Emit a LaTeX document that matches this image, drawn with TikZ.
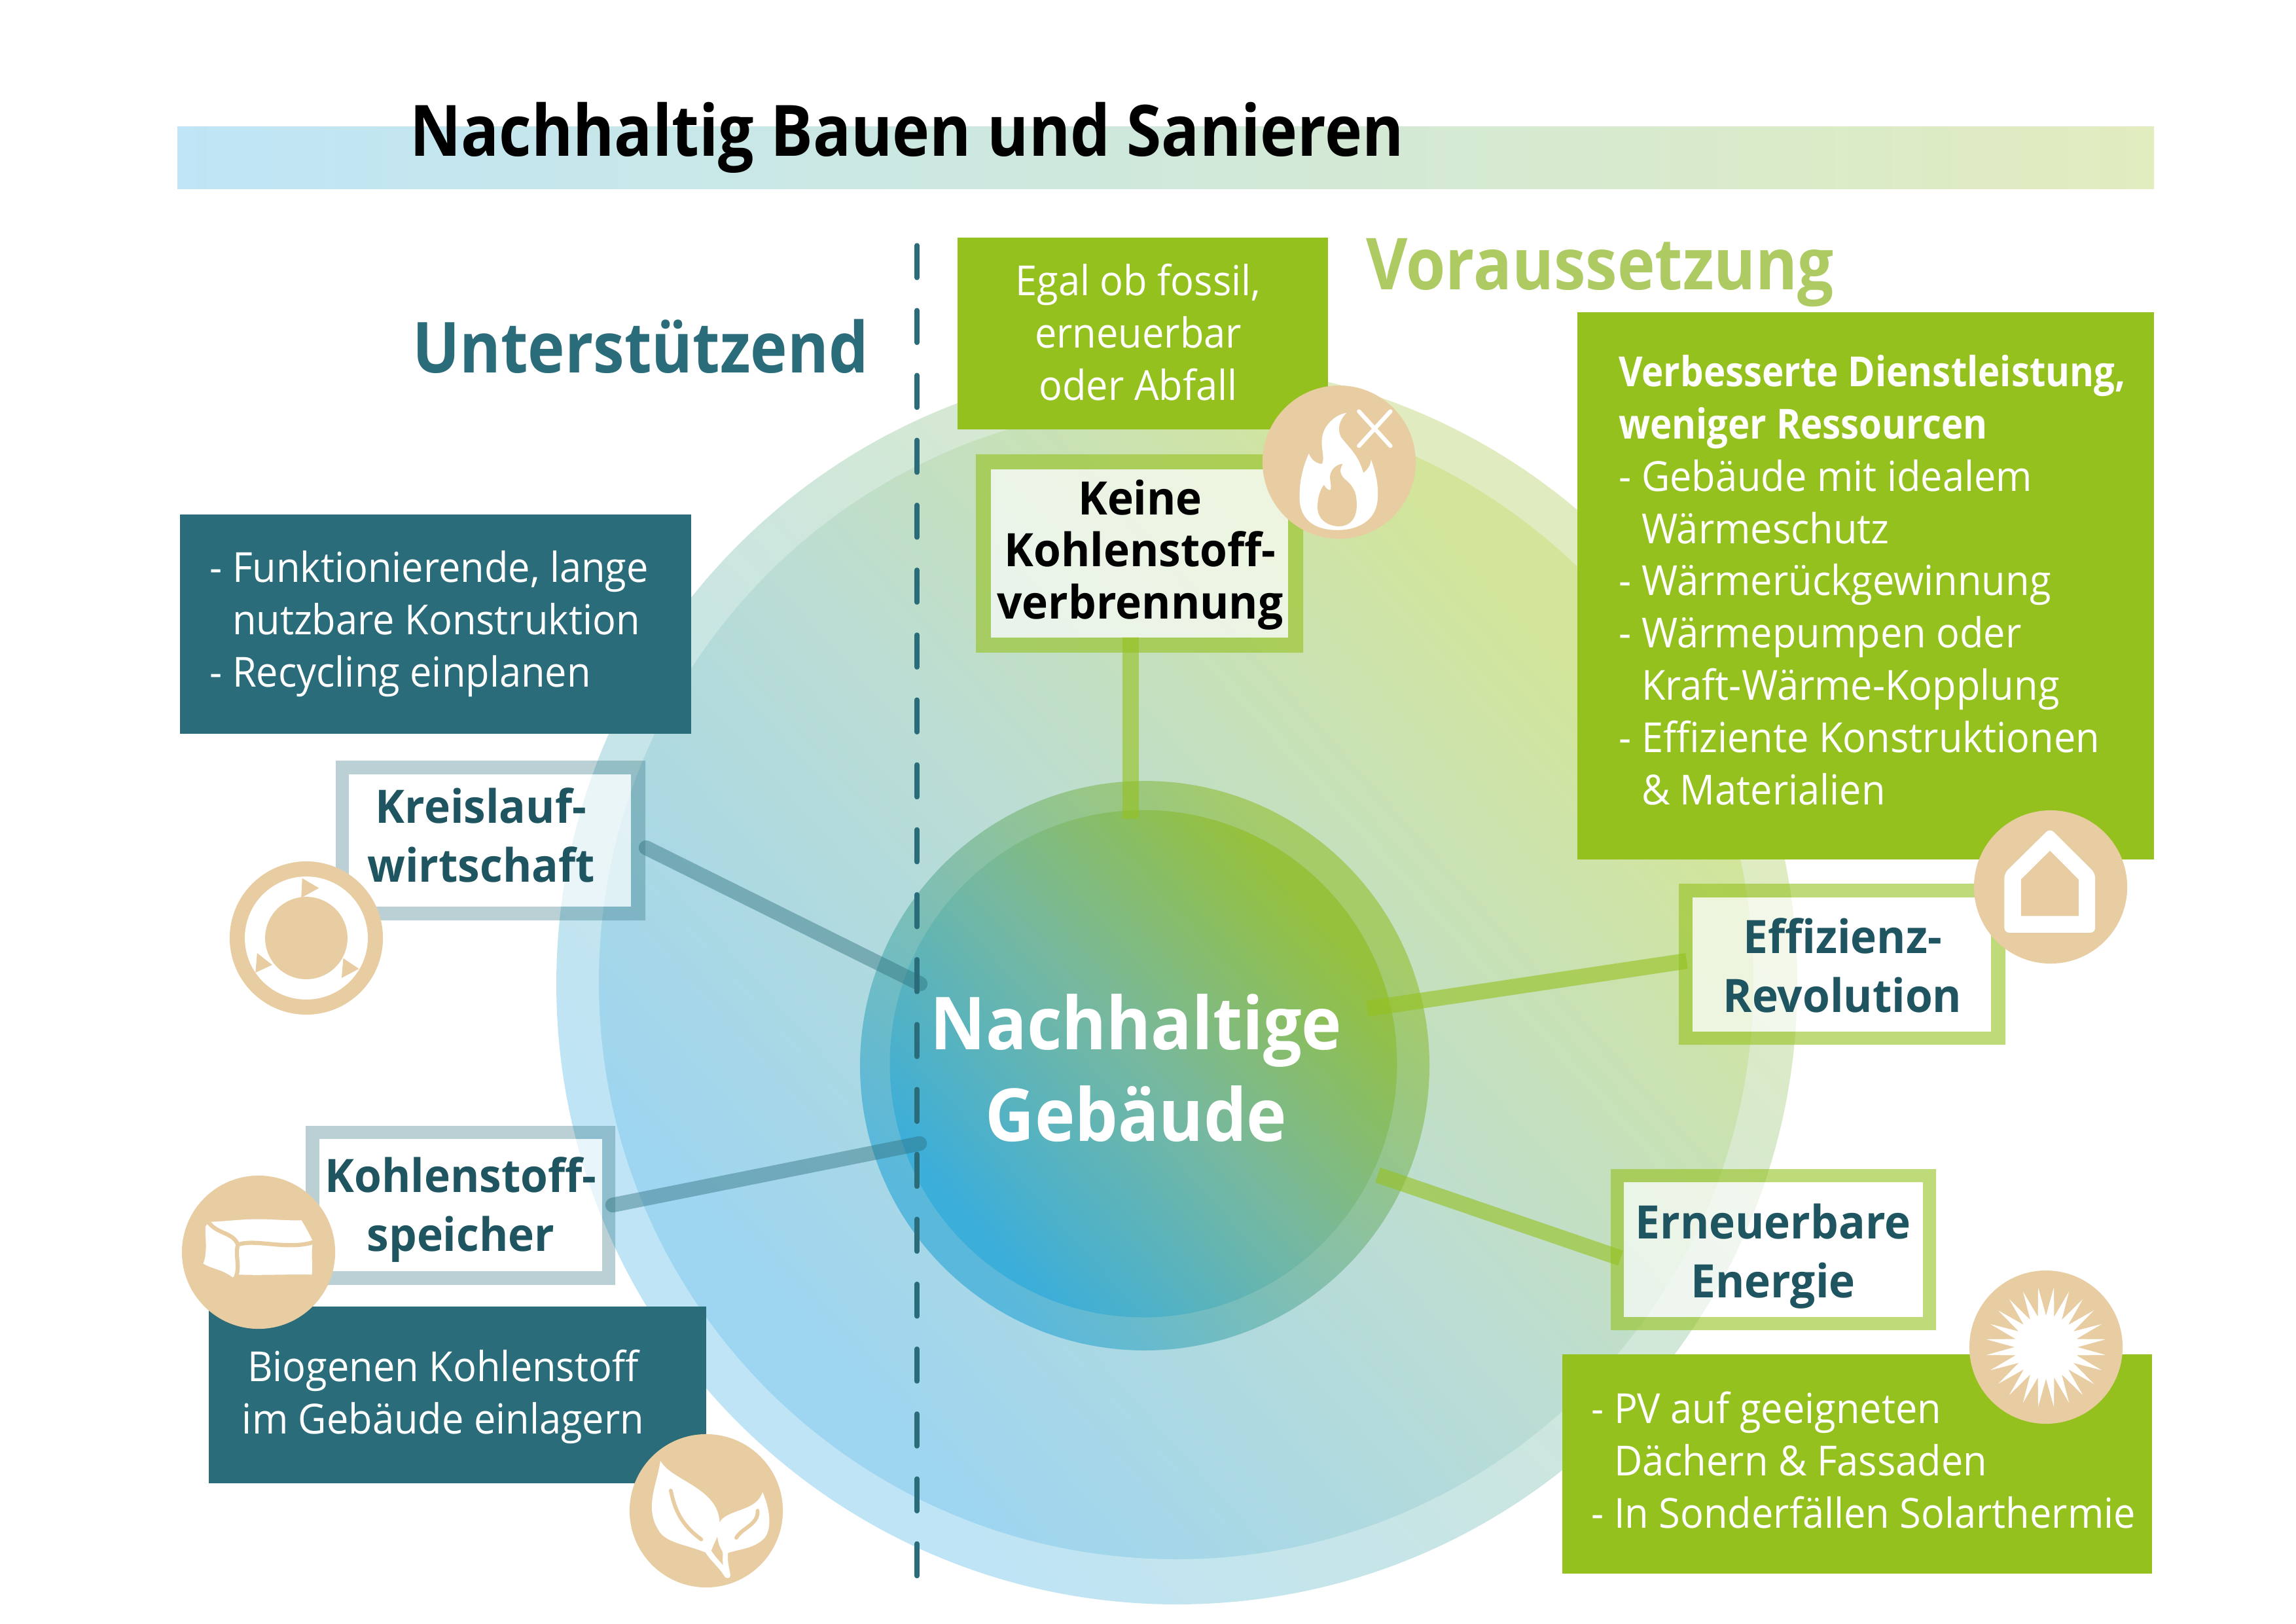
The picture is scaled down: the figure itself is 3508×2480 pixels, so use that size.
\documentclass[tikz,border=0pt]{standalone}
\usepackage{fontspec}
\setmainfont{Open Sans}[FakeStretch=0.94,BoldFeatures={FakeStretch=0.89}]
\newfontfamily\labfont{Open Sans}[FakeStretch=0.96,BoldFeatures={FakeStretch=0.96}]
\newfontfamily\corefont{Open Sans}[FakeStretch=0.93,BoldFeatures={FakeStretch=0.93}]
\usetikzlibrary{calc}
\definecolor{teal}{HTML}{2A6C79}
\definecolor{tealdark}{HTML}{1F5560}
\definecolor{leaf}{HTML}{95C11F}
\definecolor{leafhead}{HTML}{ADCB62}
\definecolor{beige}{HTML}{E8CDA3}
\definecolor{skyA}{HTML}{BFE5F6}\definecolor{skyB}{HTML}{E1ECBF}
\definecolor{outA}{HTML}{BEE4F6}\definecolor{outM}{HTML}{CDE6DE}\definecolor{outB}{HTML}{E0ECC0}
\definecolor{inA}{HTML}{9ED5F0}\definecolor{inM}{HTML}{BCDDD3}\definecolor{inB}{HTML}{D3E59A}
\definecolor{coA}{HTML}{5AB8DC}\definecolor{coM}{HTML}{87C0AA}\definecolor{coB}{HTML}{A6CC68}
\definecolor{crA}{HTML}{3CAEDA}\definecolor{crM}{HTML}{76B8A0}\definecolor{crB}{HTML}{96C13C}
\pgfdeclarehorizontalshading{outerSh}{100bp}{color(0bp)=(outA);color(28bp)=(outA);color(50bp)=(outM);color(72bp)=(outB);color(100bp)=(outB)}
\pgfdeclarehorizontalshading{innerSh}{100bp}{color(0bp)=(inA);color(28bp)=(inA);color(50bp)=(inM);color(72bp)=(inB);color(100bp)=(inB)}
\pgfdeclarehorizontalshading{coreoutSh}{100bp}{color(0bp)=(coA);color(27bp)=(coA);color(50bp)=(coM);color(73bp)=(coB);color(100bp)=(coB)}
\pgfdeclarehorizontalshading{coreinSh}{100bp}{color(0bp)=(crA);color(27bp)=(crA);color(50bp)=(crM);color(73bp)=(crB);color(100bp)=(crB)}
\newcommand{\dl}{\makebox[8.4pt][l]{-}}
\newcommand{\il}{\hspace*{8.4pt}}
\newcommand{\lbframe}[5]{\fill[#1,even odd rule] #2 rectangle #3 #4 rectangle #5;}
\tikzset{
 every node/.style={inner sep=0pt,outer sep=0pt},
 disc/.style={circle,minimum size=#1*0.48pt},
 badge/.style={circle,fill=beige,minimum size=56.2pt},
 body/.style={text=white,anchor=base,font=\fontsize{15.2}{19.2}\selectfont},
 bodyright/.style={text=white,anchor=base west,align=left,font=\fontsize{15.2}{19.15}\selectfont},
 title/.style={anchor=base west,font=\fontsize{26}{32}\selectfont\bfseries},
 lab/.style={anchor=base,align=center,font=\labfont\fontsize{16.9}{21.6}\selectfont\bfseries,text=tealdark},
 tealframe/.style={teal,opacity=.32},
 leafframe/.style={leaf,opacity=.6},
 windowfill/.style={rectangle,fill=white,fill opacity=.65},
 tealline/.style={draw=teal,opacity=.42,line width=5.4pt,line cap=round},
 leafline/.style={draw=leaf,opacity=.6,line width=5.8pt},
 icon/.style={white},
 z2/.style={shift={(1400,330)},x=.13777pt,y=-.11019pt},
 z3/.style={shift={(250,1100)},x=.12245pt,y=-.08pt},
 z4/.style={shift={(250,1700)},x=.15306pt,y=-.1194pt},
 z5/.style={shift={(2400,1200)},x=.14545pt,y=-.19139pt},
}
\begin{document}
\begin{tikzpicture}[x=.24pt,y=-.24pt]
\useasboundingbox (0,0) rectangle (3508,2480);
% header band
\node[rectangle,minimum width=3020*.24pt,minimum height=95*.24pt,left color=skyA,right color=skyB,anchor=north west] (band) at (271,193) {};
\node[title,text=black] (heading) at (626,238) {Nachhaltig Bauen und Sanieren};
% discs
\node[disc=948,shading=outerSh,shading angle=42] (outer) at (1798,1503) {};
\node[disc=882,shading=innerSh,shading angle=42] (inner) at (1797,1500) {};
\node[disc=435,shading=coreoutSh,shading angle=42] (coreout) at (1749,1628) {};
\node[disc=387.5,shading=coreinSh,shading angle=42] (corein) at (1747,1625) {};
% divider
\coordinate (divtop) at (1401,375);
\coordinate (divbot) at (1401,2412);
\draw[teal,line width=1.8pt,line cap=round,dash pattern=on 11.8pt off 12pt] (divtop) -- (divbot);
% headings
\node[title,text=teal,font=\fontsize{25.8}{32}\selectfont\bfseries] (unter) at (630,569) {Unterstützend};
\node[title,text=leafhead,font=\fontsize{26.3}{32}\selectfont\bfseries] (vor) at (2087,442) {Voraussetzung};
% connectors
\coordinate (c1a) at (987,1295); \coordinate (c1b) at (1406,1503);
\coordinate (c2a) at (936,1841); \coordinate (c2b) at (1405,1747);
\coordinate (c3a) at (1727.5,973); \coordinate (c3b) at (1727.5,1251);
\coordinate (c4a) at (2577,1468); \coordinate (c4b) at (2089,1541);
\coordinate (c5a) at (2476,1922); \coordinate (c5b) at (2105,1795);
\draw[tealline] (c1a) -- (c1b);
\draw[tealline] (c2a) -- (c2b);
\draw[leafline] (c3a) -- (c3b);
\draw[leafline] (c4a) -- (c4b);
\draw[leafline] (c5a) -- (c5b);
% framed labels
\lbframe{leafframe}{(1491,694)}{(1991,997)}{(1514,717)}{(1968,974)}
\node[windowfill,minimum width=454*.24pt,minimum height=257*.24pt] (keinebox) at (1741,845.5) {};
\node[lab,text=black,font=\labfont\fontsize{16.9}{19}\selectfont\bfseries] (keine) at (1742,945) {Keine\\Kohlenstoff-\\verbrennung};
\lbframe{tealframe}{(513,1162)}{(986,1406)}{(533,1183)}{(964,1385)}
\node[windowfill,minimum width=431*.24pt,minimum height=202*.24pt] (kreisbox) at (748.5,1284) {};
\node[lab] (kreis) at (735,1347) {Kreislauf-\\wirtschaft};
\lbframe{tealframe}{(467,1720)}{(940,1963)}{(488,1740)}{(920,1942)}
\node[windowfill,minimum width=432*.24pt,minimum height=202*.24pt] (speicherbox) at (704,1841) {};
\node[lab] (speicher) at (704,1911) {Kohlenstoff-\\speicher};
\lbframe{leafframe}{(2565,1350)}{(3064,1596)}{(2586,1371)}{(3042,1576)}
\node[windowfill,minimum width=456*.24pt,minimum height=205*.24pt] (effbox) at (2814,1473.5) {};
\node[lab] (eff) at (2815,1546) {Effizienz-\\Revolution};
\lbframe{leafframe}{(2461,1786)}{(2958,2032)}{(2481,1806)}{(2938,2012)}
\node[windowfill,minimum width=457*.24pt,minimum height=206*.24pt] (ernbox) at (2709.5,1909) {};
\node[lab] (ern) at (2709,1982) {Erneuerbare\\Energie};
% filled boxes
\fill[teal] (275,786) rectangle (1056,1121);
\node[body,align=left,anchor=base west] (funk) at (320,1049) {\dl Funktionierende, lange\\\il nutzbare Konstruktion\\\dl Recycling einplanen};
\fill[teal] (319,1996) rectangle (1079,2266);
\node[body,align=center] (bio) at (677,2190) {Biogenen Kohlenstoff\\im Gebäude einlagern};
\fill[leaf] (1463,363) rectangle (2029,656);
\node[body,align=center] (egal) at (1739,611) {Egal ob fossil,\\erneuerbar\\oder Abfall};
\fill[leaf] (2410,477) rectangle (3291,1313);
\node[bodyright] (dienst) at (2473,1229) {\textbf{Verbesserte Dienstleistung,}\\\textbf{weniger Ressourcen}\\\dl Gebäude mit idealem\\\il Wärmeschutz\\\dl Wärmerückgewinnung\\\dl Wärmepumpen oder\\\il Kraft-Wärme-Kopplung\\\dl Effiziente Konstruktionen\\\il \& Materialien};
\fill[leaf] (2387,2069) rectangle (3288,2404);
\node[bodyright] (pv) at (2431,2334) {\dl PV auf geeigneten\\\il Dächern \& Fassaden\\\dl In Sonderfällen Solarthermie};
% centre text
\node[anchor=base,align=center,text=white,font=\corefont\fontsize{26.8}{33.6}\selectfont\bfseries] (core) at (1736,1743) {Nachhaltige\\Gebäude};
% badges
\node[badge] (flamebadge) at (2046,706) {};
\node[badge] (cyclebadge) at (468,1433) {};
\node[badge] (balebadge) at (395,1913) {};
\node[badge] (leafbadge) at (1079,2308) {};
\node[badge] (housebadge) at (3133,1355) {};
\node[badge] (sunbadge) at (3126,2058) {};
% flame icon
\begin{scope}[z2]
\fill[icon] (1120,1045) .. controls (1060,1045) and (1018,1010) .. (1020,930) .. controls (1020,880) and (1030,830) .. (1045,790) .. controls (1050,810) and (1065,825) .. (1080,825) .. controls (1090,800) and (1070,760) .. (1085,715) .. controls (1095,685) and (1120,660) .. (1145,655) .. controls (1125,680) and (1120,710) .. (1130,735) .. controls (1150,770) and (1175,790) .. (1190,855) .. controls (1200,845) and (1210,830) .. (1210,810) .. controls (1225,860) and (1230,900) .. (1228,940) .. controls (1225,1010) and (1180,1045) .. (1120,1045) -- cycle;
\fill[beige] (1125,1033) .. controls (1085,1030) and (1065,1000) .. (1068,960) .. controls (1070,925) and (1078,905) .. (1085,895) .. controls (1090,905) and (1095,912) .. (1102,912) .. controls (1108,895) and (1095,870) .. (1105,850) .. controls (1110,835) and (1125,825) .. (1135,825) .. controls (1125,845) and (1128,860) .. (1140,875) .. controls (1155,890) and (1165,905) .. (1170,930) .. controls (1178,990) and (1165,1030) .. (1125,1033) -- cycle;
\draw[white,line width=1.5pt,line cap=round] (1178,650) -- (1262,765) (1262,650) -- (1178,765);
\end{scope}
% cycle icon
\node[circle,fill=white,minimum size=45.1pt] (cyclering) at (468,1433) {};
\node[circle,fill=beige,minimum size=30.2pt] (cyclecore) at (468,1433) {};
\begin{scope}[z3]
\fill[beige] (415,725) -- (465,770) -- (412,815) -- cycle;
\fill[beige] (280,1068) -- (325,1122) -- (275,1158) -- cycle;
\fill[beige] (538,1092) -- (585,1140) -- (533,1182) -- cycle;
\end{scope}
% bale icon
\begin{scope}[z4]
\fill[icon] (100,350) .. controls (104,342) and (108,336) .. (112,335) .. controls (150,333) and (180,328) .. (210,327) .. controls (250,325) and (295,332) .. (330,330) .. controls (340,350) and (350,375) .. (358,395) .. controls (352,425) and (358,465) .. (355,497) .. controls (300,495) and (240,500) .. (180,497) -- (165,505) .. controls (140,480) and (115,480) .. (95,463) .. controls (105,430) and (100,390) .. (100,350) -- cycle;
\draw[beige,line width=1.5pt] (106,334) .. controls (130,375) and (165,365) .. (178,405) .. controls (220,385) and (300,425) .. (364,395);
\draw[beige,line width=1.5pt] (178,405) .. controls (170,440) and (185,470) .. (172,508);
\end{scope}
% leaf icon
\begin{scope}[z4]
\fill[icon] (1190,1068) .. controls (1215,1130) and (1330,1150) .. (1332,1260) .. controls (1332,1300) and (1318,1320) .. (1312,1345) .. controls (1325,1370) and (1335,1380) .. (1340,1390) .. controls (1338,1360) and (1342,1355) .. (1338,1345) .. controls (1320,1310) and (1325,1260) .. (1340,1245) .. controls (1370,1215) and (1420,1220) .. (1435,1165) .. controls (1450,1210) and (1460,1270) .. (1440,1305) .. controls (1415,1340) and (1375,1340) .. (1352,1352) .. controls (1350,1375) and (1355,1400) .. (1358,1420) .. controls (1358,1432) and (1345,1432) .. (1342,1420) .. controls (1330,1395) and (1310,1375) .. (1298,1350) .. controls (1250,1325) and (1200,1320) .. (1185,1280) .. controls (1150,1210) and (1185,1130) .. (1190,1068) -- cycle;
\draw[beige,line width=1.4pt,line cap=round] (1215,1160) .. controls (1225,1220) and (1240,1265) .. (1288,1310);
\draw[beige,line width=1.4pt,line cap=round] (1423,1222) .. controls (1425,1265) and (1385,1275) .. (1372,1305);
\end{scope}
% house icon
\begin{scope}[z5]
\fill[icon,rounded corners=1.8pt] (1208,82) -- (1322,168) -- (1322,282) -- (1093,282) -- (1093,168) -- cycle;
\fill[beige] (1208,125) -- (1280,180) -- (1280,250) -- (1135,250) -- (1135,180) -- cycle;
\end{scope}
% sun icon
\begin{scope}[shift={(sunbadge)}]
\fill[icon] (7.5:92) \foreach \a in {15,30,...,345}{ -- (\a:48) -- (\a+7.5:92)} -- (0:48) -- cycle;
\end{scope}
\end{tikzpicture}
\end{document}
